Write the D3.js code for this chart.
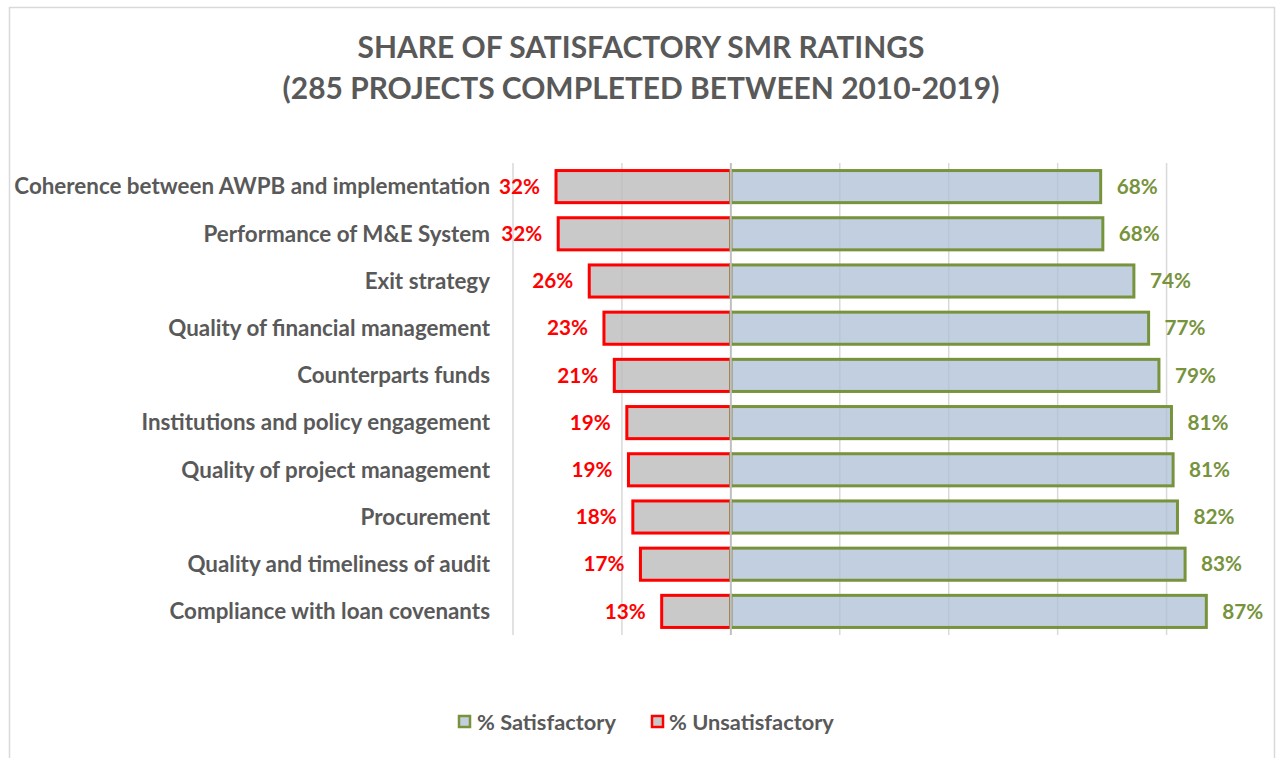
<!DOCTYPE html>
<html>
<head>
<meta charset="utf-8">
<script src="https://cdn.jsdelivr.net/npm/d3@7"></script>
<style>
  html, body { margin: 0; padding: 0; background: #fff; }
  svg { display: block; }
  text { font-family: Lato, "Open Sans", sans-serif; font-weight: bold; }
</style>
</head>
<body>
<svg id="chart" width="1278" height="758"></svg>
<script>
const categories = [
  "Coherence between AWPB and implementation",
  "Performance of M&E System",
  "Exit strategy",
  "Quality of financial management",
  "Counterparts funds",
  "Institutions and policy engagement",
  "Quality of project management",
  "Procurement",
  "Quality and timeliness of audit",
  "Compliance with loan covenants"
];
const unsatisfactory = [32.1, 31.7, 26.0, 23.3, 21.4, 19.1, 18.8, 18.0, 16.6, 12.7];
const satisfactory   = [67.9, 68.3, 74.0, 76.7, 78.6, 80.9, 81.2, 82.0, 83.4, 87.3];
const gridTicks = [-40, -20, 20, 40, 60, 80];
const titleLines = ["SHARE OF SATISFACTORY SMR RATINGS", "(285 PROJECTS COMPLETED BETWEEN 2010-2019)"];
const seriesNames = ["% Satisfactory", "% Unsatisfactory"];

const svg = d3.select("#chart");
const W = 1278, H = 758;
const GRAY = "#595959";
const RED = "#ff0000";
const GREEN = "#77933c";

// chart border
svg.append("rect").attr("x", 9.5).attr("y", 7.5).attr("width", 1265).attr("height", 760)
  .attr("fill", "#fff").attr("stroke", "#d9d9d9").attr("stroke-width", 1.5);

const x = d3.scaleLinear().domain([-40, 100]).range([513, 1275.5]);
const y = d3.scaleBand().domain(categories).range([163, 635]).paddingInner(0.32).paddingOuter(0.16);

// fit font size to a target width
function fit(sel, target) {
  const base = 20;
  sel.style("font-size", base + "px");
  const w = sel.node().getComputedTextLength();
  const fs = base * target / w;
  sel.style("font-size", fs + "px");
  return fs;
}

// gridlines
svg.append("g").selectAll("line").data(gridTicks).join("line")
  .attr("x1", d => x(d)).attr("x2", d => x(d))
  .attr("y1", 163).attr("y2", 635)
  .attr("stroke", "#d9d9d9").attr("stroke-width", 1.5);

// bars
const rows = categories.map((c, i) => ({ c, u: unsatisfactory[i], s: satisfactory[i] }));
svg.append("g").selectAll("rect").data(rows).join("rect")
  .attr("x", d => x(-d.u)).attr("width", d => x(0) - x(-d.u))
  .attr("y", d => y(d.c)).attr("height", y.bandwidth())
  .attr("fill", "#bdbdbd").attr("fill-opacity", 0.82)
  .attr("stroke", RED).attr("stroke-width", 3);
svg.append("g").selectAll("rect").data(rows).join("rect")
  .attr("x", x(0)).attr("width", d => x(d.s) - x(0))
  .attr("y", d => y(d.c)).attr("height", y.bandwidth())
  .attr("fill", "#aebfd6").attr("fill-opacity", 0.75)
  .attr("stroke", GREEN).attr("stroke-width", 3);

// zero line
svg.append("line").attr("x1", x(0)).attr("x2", x(0)).attr("y1", 163).attr("y2", 635)
  .attr("stroke", "#bfbfbf").attr("stroke-width", 2);

// category labels
const catG = svg.append("g");
const t0 = catG.append("text").text(categories[0]);
const catFs = fit(t0, 476);
t0.remove();
catG.selectAll("text").data(rows).join("text")
  .attr("x", 490).attr("y", d => y(d.c) + y.bandwidth() / 2)
  .attr("dy", "0.35em").attr("text-anchor", "end")
  .attr("fill", GRAY).style("font-size", catFs + "px")
  .text(d => d.c);

// value labels
const lg = svg.append("g");
const tv = lg.append("text").text("32%");
const valFs = fit(tv, 41);
tv.remove();
lg.selectAll("text.u").data(rows).join("text").attr("class", "u")
  .attr("x", d => x(-d.u) - 16).attr("y", d => y(d.c) + y.bandwidth() / 2)
  .attr("dy", "0.35em").attr("text-anchor", "end")
  .attr("fill", RED).style("font-size", valFs + "px")
  .text(d => Math.round(d.u) + "%");
lg.selectAll("text.s").data(rows).join("text").attr("class", "s")
  .attr("x", d => x(d.s) + 16).attr("y", d => y(d.c) + y.bandwidth() / 2)
  .attr("dy", "0.35em").attr("text-anchor", "start")
  .attr("fill", GREEN).style("font-size", valFs + "px")
  .text(d => Math.round(d.s) + "%");

// title
const tg = svg.append("g");
const tt = tg.append("text").text(titleLines[1]);
const titleFs = fit(tt, 717);
tt.remove();
tg.selectAll("text").data(titleLines).join("text")
  .attr("x", 641).attr("y", (d, i) => 58 + i * 41)
  .attr("text-anchor", "middle").attr("fill", GRAY)
  .style("font-size", titleFs + "px").text(d => d);

// legend
const leg = svg.append("g");
const tl = leg.append("text").text(seriesNames[0]);
const legFs = fit(tl, 139);
tl.remove();
const legItems = [
  { name: seriesNames[0], fill: "#c3cfdf", stroke: GREEN, bx: 459, tx: 477 },
  { name: seriesNames[1], fill: "#c8c8c8", stroke: RED, bx: 652, tx: 669 }
];
legItems.forEach(it => {
  leg.append("rect").attr("x", it.bx).attr("y", 716).attr("width", 11).attr("height", 11)
    .attr("fill", it.fill).attr("stroke", it.stroke).attr("stroke-width", 2.5);
  leg.append("text").attr("x", it.tx).attr("y", 722).attr("dy", "0.35em")
    .attr("fill", GRAY).style("font-size", legFs + "px").text(it.name);
});
</script>
</body>
</html>
